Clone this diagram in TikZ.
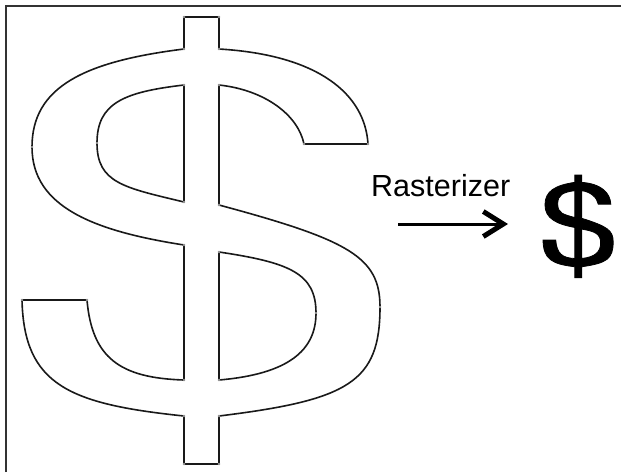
\documentclass[tikz,border=0pt]{standalone}
\usepackage{fontspec}
\setmainfont{Liberation Sans}
\usetikzlibrary{arrows.meta}
\newcommand\dollarpath{%
  (184,17) -- (219,17) -- (219,49)
  .. controls (320,55) and (365,95) .. (368,144)
  -- (304,144)
  .. controls (298,115) and (265,90) .. (219,85)
  -- (219,205)
  .. controls (349,240) and (380,257) .. (380,307)
  .. controls (380,382) and (349,400) .. (219,416)
  -- (219,464) -- (184,464) -- (184,416)
  .. controls (69,404) and (24,385) .. (22,300)
  -- (87,300)
  .. controls (92,358) and (120,378) .. (184,380)
  -- (184,245)
  .. controls (94,231) and (32,207) .. (32,147)
  .. controls (32,87) and (84,61.5) .. (184,49)
  -- cycle
  (184,85)
  .. controls (124,92) and (97,103) .. (97,143)
  .. controls (97,183) and (124,187.6) .. (184,202)
  -- cycle
  (219,252)
  .. controls (289,262.5) and (316,273) .. (316,313)
  .. controls (316,350) and (289,374) .. (219,380)
  -- cycle}
\tikzset{
  frameline/.style={line width=1.6pt, draw=black!80},
  outline/.style={line width=1.6pt, draw=black!90, line join=round},
  vtx/.style={fill=black!40},
  arrowline/.style={line width=3pt, -{Straight Barb[length=20pt,width=25pt,line width=5pt]}},
  label/.style={anchor=base west, inner sep=0pt, font=\fontsize{30.5}{36}\selectfont}
}
\begin{document}
\begin{tikzpicture}[x=1pt,y=-1pt]
\useasboundingbox[fill=white] (0,0) rectangle (621,472);
% frame
\draw[frameline] (6,472) -- (6,6) -- (621,6);
% large outline dollar
\draw[outline] \dollarpath;
\foreach \p in {(184,17),(219,17),(219,49),(368,144),(304,144),(219,85),(219,205),(380,307),(219,416),(219,464),(184,464),(184,416),(22,300),(87,300),(184,380),(184,245),(32,147),(184,49),(184,85),(97,143),(184,202),(219,252),(316,313),(219,380)}
  \fill[vtx] \p circle[radius=1.3pt];
% label and arrow
\node[label] (rast) at (371,196) {Rasterizer};
\coordinate (arrA) at (398,224);
\coordinate (arrB) at (508,224);
\draw[arrowline] (arrA) -- (arrB);
% small rasterized dollar
\begin{scope}[xshift=538.69pt, yshift=-171.09pt, xscale=0.196, yscale=0.23]
  \fill[even odd rule, black] \dollarpath;
  \draw[line width=0.8pt, black] \dollarpath;
\end{scope}
\end{tikzpicture}
\end{document}
